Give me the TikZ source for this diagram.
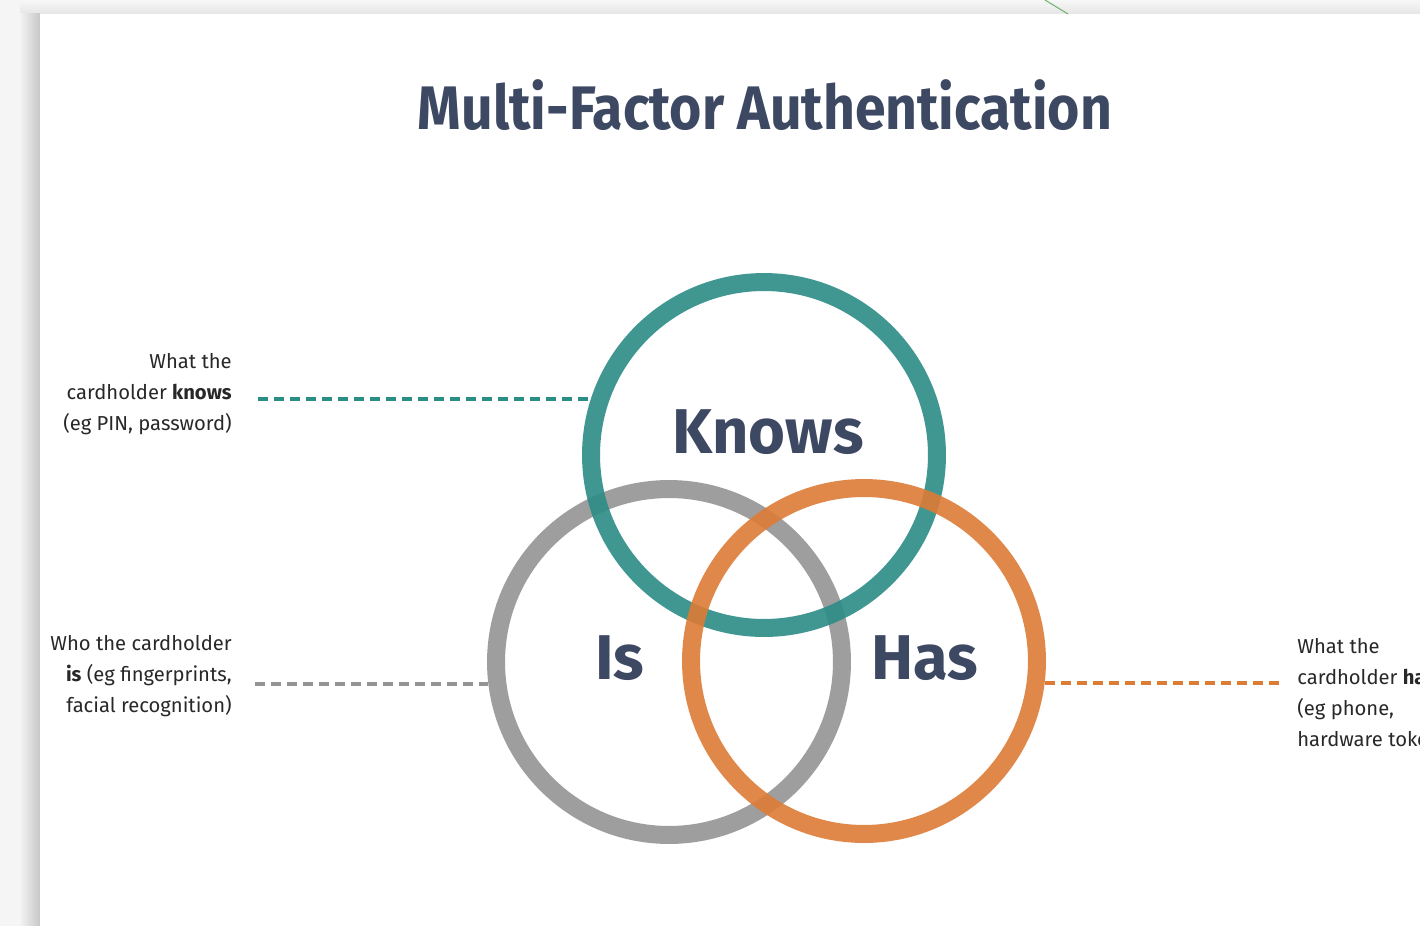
\documentclass[tikz,border=0pt]{standalone}
\usepackage{fontspec}
\setmainfont{Fira Sans}
\newfontfamily\titlefont[FakeStretch=0.9]{Fira Sans}
\usetikzlibrary{positioning}

\definecolor{mfateal}{RGB}{44,140,134}
\definecolor{mfagray}{RGB}{148,148,148}
\definecolor{mfaorange}{RGB}{221,124,54}
\definecolor{mfanavy}{RGB}{61,72,98}
\definecolor{mfatext}{RGB}{40,40,40}

\tikzset{
  ring/.style={circle,draw,line width=0.36cm,draw opacity=0.9,
    minimum size=6.92cm,inner sep=0pt},
  bigword/.style={font=\fontsize{36}{40}\selectfont\bfseries,text=mfanavy,inner sep=0pt},
  sidetext/.style={font=\fontsize{11.5}{17.6}\selectfont,text=mfatext,inner sep=0pt},
  factorline/.style={line width=2pt,dash pattern=on 0.2cm off 0.12cm}
}

\begin{document}
\begin{tikzpicture}[x=0.02cm,y=-0.02cm]
\clip (0,0) rectangle (1420,926);
% page background and card
\fill[black!4] (0,0) rectangle (1420,926);
\shade[top color=black!3,bottom color=black!10] (20,0) rectangle (1420,14);
\shade[left color=black!3,right color=black!22] (18,14) rectangle (40,926);
\fill[white] (40,14) rectangle (1420,926);
\draw[green!45!black!55,line width=0.6pt] (1045,0) -- (1068,14);

\node[font=\titlefont\fontsize{35}{40}\selectfont\bfseries,text=mfanavy] (title) at (765,105) {Multi-Factor Authentication};

% the three rings
\node[ring,draw=mfagray] (isC) at (669,662) {};
\node[ring,draw=mfateal] (knowsC) at (764,455) {};
\node[ring,draw=mfaorange] (hasC) at (864,661) {};

\node[bigword] (knows) at (768,432) {Knows};
\node[bigword] (is) at (620,658) {Is};
\node[bigword] (has) at (925,658) {Has};

% side labels
\node[sidetext,align=right,anchor=east] (knowsLbl) at (232,394) {What the\\cardholder \textbf{knows}\\(eg PIN, password)};
\node[sidetext,align=right,anchor=east] (isLbl) at (232,676) {Who the cardholder\\\textbf{is} (eg fingerprints,\\facial recognition)};
\node[sidetext,align=left,anchor=west] (hasLbl) at (1297,694) {What the\\cardholder \textbf{has}\\(eg phone,\\hardware token)};

\draw[factorline,mfateal,shorten <=0.52cm] (knowsLbl.east |- knowsC.162) -- (knowsC.162);
\draw[factorline,mfagray,shorten <=0.46cm] (isLbl.east |- isC.187) -- (isC.187);
\draw[factorline,mfaorange,shorten >=0.34cm] (hasC.-7) -- (hasC.-7 -| hasLbl.west);

\end{tikzpicture}
\end{document}
